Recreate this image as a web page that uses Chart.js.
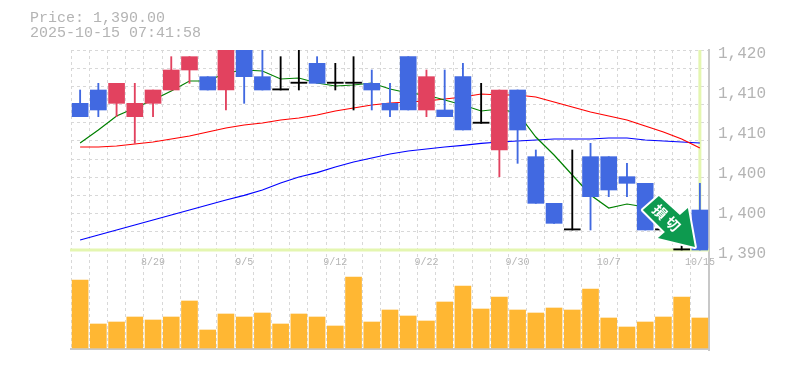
<!DOCTYPE html>
<html lang="ja">
<head>
<meta charset="UTF-8" />
<title>Price chart</title>
<script src="https://cdn.jsdelivr.net/npm/chart.js"></script>
<style>
    body { margin: 0; background: #fff; }
    #wrap { position: relative; width: 785px; height: 370px; }
    #head { position: absolute; left: 30px; top: 11px; font: 15px/15px "Liberation Mono", monospace; color: #b4b4b4; white-space: pre; }
</style>
</head>
<body>
<div id="wrap">
    <div id="head">Price: 1,390.00
2025-10-15 07:41:58</div>
    <canvas id="chart" width="785" height="370"></canvas>
</div>
<script>
const dates = ['8/25','8/26','8/27','8/28','8/29','9/1','9/2','9/3','9/4','9/5','9/8','9/9','9/10','9/11','9/12','9/16','9/17','9/18','9/19','9/22','9/24','9/25','9/26','9/29','9/30','10/1','10/2','10/3','10/6','10/7','10/8','10/9','10/10','10/14','10/15'];
const opens = [1412,1414,1412,1410,1412,1414,1417,1416,1414,1421,1416,1414,1415,1418,1415,1415,1415,1412,1419,1411,1411,1416,1409,1405,1414,1404,1397,1393,1404,1404,1401,1400,1393,1390,1396];
const highs = [1414,1415,1415,1415,1414,1419,1419,1416,1422,1421,1421,1419,1420,1419,1418,1419,1417,1415,1419,1417,1417,1418,1415,1414,1414,1405,1397,1405,1406,1404,1403,1400,1396,1391,1400];
const lows = [1410,1410,1410,1406,1410,1414,1415,1414,1411,1412,1414,1414,1414,1415,1414,1411,1411,1410,1411,1410,1410,1408,1409,1401,1403,1397,1394,1393,1393,1398,1398,1393,1393,1390,1390];
const closes = [1410,1411,1415,1412,1414,1417,1419,1414,1422,1416,1414,1414,1415,1415,1415,1415,1414,1411,1411,1416,1410,1408,1409,1414,1408,1397,1394,1393,1398,1399,1400,1393,1393,1390,1390];
const maShort = [1406.05,1408,1410.1,1411.3,1412.5,1413.85,1415.35,1415.35,1416.55,1417,1416.85,1415.65,1415.8,1415.05,1414.6,1414.75,1415.05,1414.15,1413.55,1413.25,1412.5,1411.75,1410.85,1411.15,1410.55,1406.95,1404.25,1401.25,1398.25,1396.3,1396.9,1396.45,1395.7,1393.75,1391.8];
const maMid = [1405.45,1405.45,1405.6,1405.9,1406.2,1406.65,1407.1,1407.7,1408.3,1408.75,1409.05,1409.5,1409.8,1410.25,1410.85,1411.3,1411.75,1412.05,1412.2,1412.35,1412.65,1412.95,1413.4,1413.25,1413.25,1412.95,1412.2,1411.45,1410.7,1410.1,1409.5,1408.6,1407.7,1406.65,1405.3];
const maLong = [1391.5,1392.25,1393,1393.75,1394.5,1395.25,1396,1396.75,1397.5,1398.2,1399,1400.05,1400.95,1401.6,1402.45,1403.2,1403.8,1404.4,1404.85,1405.15,1405.45,1405.7,1406,1406.2,1406.35,1406.5,1406.65,1406.65,1406.65,1406.8,1406.8,1406.5,1406.35,1406.2,1406.05];
const volumes = [68,24,26,31,28,31,47,18,34,31,35,24,34,31,22,71,26,38,32,27,46,62,39,51,38,35,40,38,59,30,21,26,31,51,30];
const priceTicks = [1420,1414,1408,1402,1396,1390];
const priceLabels = ['1,420','1,410','1,410','1,400','1,400','1,390'];
const lastPrice = 1390;

const BLUE = '#4169e1', RED = '#e2425f', BLACK = '#000';
const GRID = '#d8d8d8', AXIS = '#c8c8c8', TEXT = '#b4b4b4', NOW = '#e4f6b0';
const MONO = '"Liberation Mono", monospace';

const candleColors = opens.map((o, i) => closes[i] > o ? RED : closes[i] < o ? BLUE : BLACK);

// current price cross and the bottom rule, behind the candles
const frame = {
    id: 'frame',
    beforeDatasetsDraw(chart) {
        const { ctx, chartArea: a, scales } = chart;
        const y = scales.y.getPixelForValue(lastPrice);
        const x = scales.x.getPixelForValue(dates.length - 1);
        ctx.save();
        ctx.strokeStyle = NOW;
        ctx.lineWidth = 3;
        ctx.beginPath();
        ctx.moveTo(a.left - 1, y);
        ctx.lineTo(a.right, y);
        ctx.moveTo(x, a.top);
        ctx.lineTo(x, y);
        ctx.stroke();
        ctx.strokeStyle = AXIS;
        ctx.lineWidth = 2;
        ctx.beginPath();
        ctx.moveTo(a.left - 1, a.bottom - 1);
        ctx.lineTo(a.right, a.bottom - 1);
        ctx.stroke();
        ctx.restore();
    }
};

// green stop-loss badge, hung off the last candle
const badge = {
    id: 'badge',
    afterDatasetsDraw(chart) {
        const { ctx, scales } = chart;
        const ax = scales.x.getPixelForValue(dates.length - 1);
        const ay = scales.y.getPixelForValue(lastPrice);
        const pts = [[-41,-54],[-20,-35],[-12,-42],[-5,-3],[-42,-12],[-35,-18],[-57,-40]];
        ctx.save();
        ctx.translate(ax, ay);
        ctx.beginPath();
        pts.forEach((p, i) => i ? ctx.lineTo(p[0], p[1]) : ctx.moveTo(p[0], p[1]));
        ctx.closePath();
        ctx.lineJoin = 'round';
        ctx.strokeStyle = '#fff';
        ctx.lineWidth = 4;
        ctx.stroke();
        ctx.fillStyle = '#0d9a4f';
        ctx.fill();
        ctx.fillStyle = '#fff';
        ctx.font = 'bold 14px "Noto Sans CJK JP"';
        ctx.textAlign = 'center';
        ctx.textBaseline = 'middle';
        [['損', -40, -38], ['切', -27, -26]].forEach(t => {
            ctx.save();
            ctx.translate(t[1], t[2]);
            ctx.rotate(Math.PI / 4);
            ctx.fillText(t[0], 0, 0);
            ctx.restore();
        });
        ctx.restore();
    }
};

new Chart(document.getElementById('chart'), {
    data: {
        labels: dates,
        datasets: [
            { type: 'line', data: maLong, borderColor: '#0000ff', borderWidth: 1.2, pointRadius: 0, order: 5 },
            { type: 'line', data: maMid, borderColor: '#ff0000', borderWidth: 1.2, pointRadius: 0, order: 4 },
            { type: 'line', data: maShort, borderColor: '#008000', borderWidth: 1.2, pointRadius: 0, order: 3 },
            { type: 'bar', data: lows.map((l, i) => [l, highs[i]]), backgroundColor: candleColors, barThickness: 1.2, grouped: false, order: 2 },
            { type: 'bar', data: opens.map((o, i) => [Math.min(o, closes[i]), Math.max(o, closes[i])]), backgroundColor: candleColors, barThickness: 16, minBarLength: 1.2, grouped: false, order: 1 },
            { type: 'bar', data: volumes, yAxisID: 'yVol', backgroundColor: '#ffb733', barThickness: 16, grouped: false, order: 6 }
        ]
    },
    options: {
        responsive: false,
        animation: false,
        layout: { padding: { left: 71, top: 50, bottom: 20 } },
        plugins: { legend: { display: false }, tooltip: { enabled: false } },
        scales: {
            x: {
                type: 'category',
                position: { y: lastPrice },
                grid: { offset: true, color: GRID, drawTicks: false },
                border: { display: false, dash: [3, 3] },
                ticks: {
                    autoSkip: false, maxRotation: 0, minRotation: 0, padding: 6,
                    color: TEXT, font: { family: MONO, size: 10 },
                    callback: (v, i) => (i + 1) % 5 === 0 ? dates[i] : ''
                }
            },
            y: {
                position: 'right',
                min: 1375,
                max: 1420,
                afterBuildTicks: s => { s.ticks = priceTicks.map(value => ({ value })); },
                afterFit: s => { s.width = 76; },
                grid: { display: false, drawTicks: false },
                border: { color: AXIS, width: 2 },
                ticks: {
                    padding: 9, labelOffset: 4, color: TEXT,
                    font: { family: MONO, size: 16 },
                    callback: (v, i) => priceLabels[i]
                }
            },
            yGrid: {
                position: 'left',
                min: 1375,
                max: 1420,
                afterBuildTicks: s => {
                    const t = [];
                    for (let i = 0; i <= 11; i++) t.push({ value: 1390 + i * 30 / 11 });
                    s.ticks = t;
                },
                afterFit: s => { s.width = 0; },
                grid: { color: GRID, drawTicks: false },
                border: { display: false, dash: [3, 3] },
                ticks: { display: false }
            },
            yVol: { display: false, min: -2, max: 298 }
        }
    },
    plugins: [frame, badge]
});
</script>
</body>
</html>
